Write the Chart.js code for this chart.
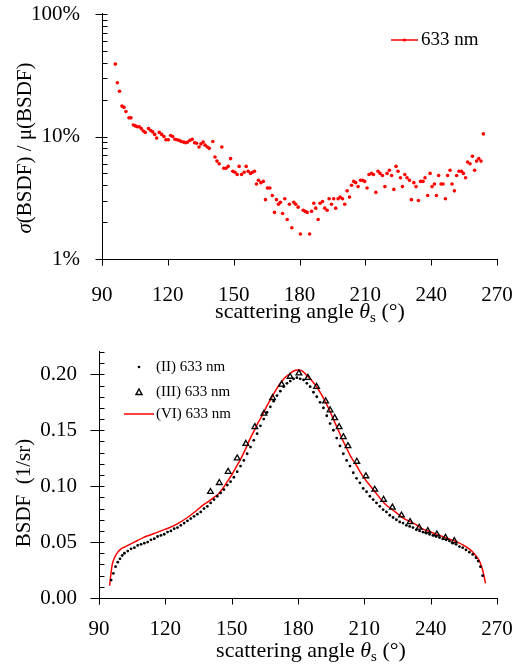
<!DOCTYPE html>
<html>
<head>
<meta charset="utf-8">
<script src="https://cdn.jsdelivr.net/npm/chart.js@4.4.1/dist/chart.umd.min.js"></script>
<style>
  html, body { margin: 0; padding: 0; background: #fff; }
  #wrap { position: relative; width: 514px; height: 664px; }
  canvas { position: absolute; left: 0; }
</style>
</head>
<body>
<div id="wrap">
  <canvas id="relChart" width="514" height="330" style="top:0"></canvas>
  <canvas id="bsdfChart" width="514" height="334" style="top:330px"></canvas>
</div>
<script>
const SERIF = "'Liberation Serif', 'Times New Roman', serif";

// ===== top: relative deviation sigma/mu (%) =====
const relAngles = [96.1, 97.0, 98.0, 99.1, 100.0, 100.9, 102.3, 103.2, 104.3, 105.2, 106.1, 107.0, 107.9, 108.8, 109.7,
  111.2, 112.2, 113.1, 114.0, 114.9, 116.1, 117.2, 118.2, 119.1, 120.2, 121.3, 122.2, 123.2, 124.2, 125.2, 126.1,
  127.2, 128.1, 129.0, 130.1, 131.1, 132.2, 133.1, 134.2, 135.1, 136.1, 137.0, 138.0, 138.9, 140.5, 141.5, 142.4,
  143.4, 144.6, 145.5, 146.5, 147.5, 148.6, 149.6, 150.6, 151.6, 152.5, 153.6, 154.8, 155.7, 156.6, 157.7, 158.6,
  159.5, 160.4, 161.3, 162.4, 163.5, 164.5, 165.4, 166.5, 167.6, 168.6, 169.5, 170.4, 171.3, 172.3, 173.3, 174.4,
  175.4, 176.5, 177.4, 178.3, 179.4, 180.4, 181.7, 182.6, 183.5, 184.6, 185.5, 186.5, 187.4, 188.5, 189.4, 190.5,
  191.5, 192.6, 193.5, 194.6, 195.6, 196.5, 197.6, 198.5, 199.6, 200.6, 201.7, 202.8, 203.7, 204.7, 205.6, 206.7,
  207.8, 208.8, 209.7, 210.8, 211.7, 212.8, 213.7, 214.8, 215.8, 216.7, 217.8, 218.9, 219.9, 221.0, 222.0, 223.0,
  224.0, 224.9, 226.0, 226.9, 228.0, 229.0, 230.1, 231.0, 232.1, 233.1, 234.2, 235.2, 236.3, 237.2, 238.4, 239.5,
  240.4, 241.5, 242.4, 243.4, 244.5, 245.4, 246.5, 247.5, 248.6, 249.5, 250.6, 251.6, 252.7, 253.8, 254.7, 255.7,
  256.6, 257.7, 258.8, 259.8, 260.7, 261.7, 262.7, 263.8];
const relPct = [39, 27.5, 23.4, 17.7, 17.3, 16.0, 14.2, 14.2, 12.4, 12.2, 12.0, 12.0, 11.6, 11.1, 10.8,
  11.6, 11.2, 10.9, 10.4, 9.7, 10.8, 10.4, 10.0, 9.4, 9.4, 10.2, 10.0, 9.5, 9.4, 9.3, 9.1,
  9.0, 8.9, 9.0, 9.3, 9.5, 8.9, 8.8, 8.2, 8.7, 9.0, 8.5, 8.2, 8.0, 9.1, 6.8, 6.3,
  6.0, 8.2, 5.5, 5.5, 5.7, 6.6, 5.2, 5.1, 4.9, 5.7, 4.9, 5.1, 5.7, 5.2, 5.0, 5.1,
  5.2, 4.1, 4.4, 4.2, 4.3, 3.05, 3.8, 3.8, 3.3, 2.4, 3.05, 2.8, 2.9, 2.35, 3.1, 2.1,
  2.8, 1.8, 2.9, 2.8, 2.65, 1.6, 2.5, 2.45, 2.4, 1.6, 2.45, 2.85, 2.6, 2.1, 2.85, 2.95,
  2.6, 2.5, 3.1, 2.8, 3.1, 2.6, 3.1, 3.2, 3.1, 2.8, 3.6, 3.2, 4.0, 4.3, 4.2, 3.9,
  4.4, 4.4, 4.3, 3.8, 4.9, 5.0, 4.9, 3.5, 5.2, 5.0, 4.8, 3.9, 5.0, 5.3, 4.8, 3.7,
  5.7, 5.2, 4.6, 3.9, 4.9, 4.6, 4.4, 3.05, 4.2, 3.9, 3.0, 4.3, 4.3, 4.6, 3.3, 5.0,
  3.9, 4.1, 3.3, 4.8, 4.1, 4.1, 3.1, 4.8, 5.3, 4.1, 3.6, 4.8, 5.2, 5.2, 5.0, 4.6,
  6.2, 6.0, 6.9, 5.3, 6.3, 6.6, 6.3, 10.5];
const relLabel = '633 nm';
const relYTicks = [1, 10, 100];

// ===== bottom: BSDF =====
const angleTicks = [90, 120, 150, 180, 210, 240, 270];

const dotsAngles = [95.5, 96.5, 97.5, 98.5, 99.5, 100.5, 101.5, 103, 104.5, 106, 107.5, 109, 110.5, 112, 113.5, 115,
  116.5, 118, 119.5, 121, 122.5, 124, 125.5, 127, 128.5, 130, 131.5, 133, 134.5, 136, 137.5, 139, 140.5, 142,
  143.5, 145, 146.5, 148, 149.5, 151, 152.5, 154, 155.5, 157, 158.5, 160, 161.5, 163, 164.5, 166, 167.5, 169,
  170.5, 172, 173.5, 175, 176.5, 178, 179.5, 181, 182.5, 184, 185.5, 187, 188.5, 190, 191.5, 193, 194.5, 196,
  197.5, 199, 200.5, 202, 203.5, 205, 206.5, 208, 209.5, 211, 212.5, 214, 215.5, 217, 218.5, 220, 221.5, 223,
  224.5, 226, 227.5, 229, 230.5, 232, 233.5, 235, 236.5, 238, 239.5, 241, 242.5, 244, 245.5, 247, 248.5, 250,
  251.5, 253, 254.5, 256, 257.5, 259, 260.5, 261.5, 262.5, 263.5];
const dotsBsdf = [0.016, 0.022, 0.028, 0.032, 0.035, 0.038, 0.040, 0.042, 0.044, 0.045, 0.047, 0.048, 0.049, 0.050, 0.052, 0.053,
  0.055, 0.056, 0.057, 0.059, 0.060, 0.062, 0.063, 0.065, 0.067, 0.069, 0.071, 0.073, 0.075, 0.077, 0.080, 0.082, 0.085, 0.088,
  0.091, 0.094, 0.097, 0.101, 0.104, 0.108, 0.113, 0.118, 0.123, 0.129, 0.135, 0.141, 0.147, 0.154, 0.160, 0.166, 0.171, 0.176,
  0.181, 0.185, 0.189, 0.192, 0.194, 0.196, 0.197, 0.196, 0.195, 0.192, 0.189, 0.184, 0.180, 0.175, 0.170, 0.163, 0.156, 0.150,
  0.143, 0.136, 0.129, 0.123, 0.118, 0.112, 0.107, 0.103, 0.098, 0.095, 0.091, 0.088, 0.085, 0.082, 0.079, 0.077, 0.074, 0.072,
  0.070, 0.068, 0.067, 0.065, 0.064, 0.063, 0.061, 0.060, 0.059, 0.058, 0.057, 0.056, 0.055, 0.054, 0.053, 0.052, 0.051, 0.049,
  0.048, 0.046, 0.045, 0.043, 0.041, 0.039, 0.036, 0.033, 0.028, 0.020];

const triAngles = [140.4, 144.4, 148.4, 152.5, 156.4, 160.5, 164.6, 168.5, 172.6, 176.4, 180.4, 184.5, 188.4, 192.5,
  194.5, 196.6, 198.6, 200.5, 202.6, 206.6, 210.7, 214.7, 218.7, 222.7, 226.8, 230.7, 234.8, 238.7, 242.8, 246.7, 250.7];
const triBsdf = [0.095, 0.103, 0.113, 0.125, 0.138, 0.153, 0.165, 0.179, 0.191, 0.198, 0.201, 0.197, 0.189, 0.176,
  0.168, 0.161, 0.153, 0.144, 0.136, 0.122, 0.109, 0.097, 0.088, 0.081, 0.074, 0.068, 0.063, 0.060, 0.057, 0.054, 0.051];

const lineAngles = [94.8, 95.3, 96.0, 97.0, 98.5, 100, 102, 104, 107, 110, 114, 118, 122, 126, 130, 134, 137, 140, 142,
  144, 146, 148, 150, 152, 154, 156, 158, 160, 162, 164, 166, 168, 170, 172, 174, 176, 178, 180, 182, 184, 186, 188,
  190, 192, 194, 196, 198, 200, 202, 204, 206, 208, 210, 212, 214, 216, 218, 220, 222, 224, 226, 228, 230, 233, 236,
  240, 244, 248, 252, 255, 258, 260, 261.5, 262.5, 263.5, 264.2, 264.8];
const lineBsdf = [0.011, 0.020, 0.030, 0.036, 0.041, 0.044, 0.046, 0.048, 0.051, 0.054, 0.057, 0.060, 0.063, 0.067, 0.072,
  0.078, 0.083, 0.087, 0.090, 0.093, 0.098, 0.104, 0.110, 0.117, 0.124, 0.132, 0.141, 0.149, 0.157, 0.164, 0.172, 0.179,
  0.186, 0.192, 0.197, 0.200, 0.203, 0.204, 0.203, 0.199, 0.195, 0.190, 0.184, 0.177, 0.169, 0.160, 0.151, 0.142, 0.134,
  0.126, 0.120, 0.113, 0.107, 0.102, 0.097, 0.092, 0.087, 0.083, 0.080, 0.077, 0.074, 0.071, 0.069, 0.066, 0.062, 0.059,
  0.056, 0.053, 0.050, 0.047, 0.043, 0.039, 0.035, 0.031, 0.025, 0.019, 0.013];

const bsdfLabels = ['(II) 633 nm', '(III) 633 nm', '(VI) 633 nm'];
const bsdfYMajor = [0, 0.05, 0.10, 0.15, 0.20];
const bsdfYMinor = [0.01, 0.02, 0.03, 0.04, 0.06, 0.07, 0.08, 0.09, 0.11, 0.12, 0.13, 0.14, 0.16, 0.17, 0.18, 0.19, 0.21, 0.22];

const toPoints = (xs, ys) => xs.map((x, i) => ({ x, y: ys[i] }));

// draws a run of text pieces with mixed styles, centred on x
function drawRich(ctx, parts, x, y) {
  let w = 0;
  parts.forEach(p => { ctx.font = p.font; w += ctx.measureText(p.t).width; });
  let cx = x - w / 2;
  parts.forEach(p => {
    ctx.font = p.font;
    ctx.fillText(p.t, cx, y + (p.dy || 0));
    cx += ctx.measureText(p.t).width;
  });
}

const angleTitle = [
  { t: 'scattering angle ', font: `22px ${SERIF}` },
  { t: 'θ', font: `italic 22px ${SERIF}` },
  { t: 's', font: `15px ${SERIF}`, dy: 4 },
  { t: ' (°)', font: `22px ${SERIF}` },
];

// axes, tick marks, titles and legend drawn over the library scales
const decor = {
  id: 'decor',
  afterDraw(chart, args, o) {
    const { ctx, chartArea: a } = chart;
    const xs = chart.scales.x, ys = chart.scales.y;
    ctx.save();
    ctx.strokeStyle = '#000';
    ctx.lineWidth = 1;
    ctx.beginPath();
    const L = Math.round(a.left) + 0.5, B = Math.round(a.bottom) + 0.5;
    ctx.moveTo(L, a.top - 1); ctx.lineTo(L, B + 6);
    ctx.moveTo(L, B); ctx.lineTo(Math.round(a.right) + 1, B);
    angleTicks.forEach(v => {
      const px = Math.round(xs.getPixelForValue(v)) + 0.5;
      ctx.moveTo(px, B); ctx.lineTo(px, B + 6);
    });
    o.yMajor.forEach(v => {
      const py = Math.round(ys.getPixelForValue(v)) + 0.5;
      ctx.moveTo(L - o.majorOut, py); ctx.lineTo(L + 5, py);
    });
    o.yMinor.forEach(v => {
      const py = Math.round(ys.getPixelForValue(v)) + 0.5;
      ctx.moveTo(L, py); ctx.lineTo(L + 5, py);
    });
    ctx.stroke();

    ctx.fillStyle = '#000';
    ctx.textAlign = 'left';
    ctx.textBaseline = 'alphabetic';
    drawRich(ctx, angleTitle, o.xTitle[0], o.xTitle[1]);
    ctx.save();
    ctx.translate(o.yTitle[0], o.yTitle[1]);
    ctx.rotate(-Math.PI / 2);
    drawRich(ctx, o.yTitleParts, 0, 0);
    ctx.restore();

    // legend
    ctx.textBaseline = 'middle';
    o.legend.forEach(it => {
      ctx.font = it.font;
      if (it.kind === 'line') {
        ctx.strokeStyle = it.color; ctx.lineWidth = 1.5;
        ctx.beginPath(); ctx.moveTo(it.x0, it.y); ctx.lineTo(it.x1, it.y); ctx.stroke();
        if (it.dot) {
          ctx.fillStyle = it.color;
          ctx.beginPath(); ctx.arc((it.x0 + it.x1) / 2, it.y, 1.6, 0, Math.PI * 2); ctx.fill();
        }
      } else if (it.kind === 'dot') {
        ctx.fillStyle = '#000';
        ctx.beginPath(); ctx.arc(it.mx, it.y, 1.3, 0, Math.PI * 2); ctx.fill();
      } else if (it.kind === 'tri') {
        ctx.strokeStyle = '#000'; ctx.lineWidth = 1.4;
        ctx.beginPath();
        ctx.moveTo(it.mx, it.y - 3); ctx.lineTo(it.mx + 3, it.y + 2.5); ctx.lineTo(it.mx - 3, it.y + 2.5);
        ctx.closePath(); ctx.stroke();
      }
      ctx.fillStyle = '#000';
      ctx.fillText(it.text, it.tx, it.y);
    });
    ctx.restore();
  }
};

function fixedScale(size) {
  return s => {
    if (s.isHorizontal()) s.height = size; else s.width = size;
    s.paddingTop = 0; s.paddingBottom = 0; s.paddingLeft = 0; s.paddingRight = 0;
  };
}

const tickFont = { family: SERIF, size: 21 };

// ===== Chart 1 =====
new Chart(document.getElementById('relChart'), {
  type: 'scatter',
  data: {
    datasets: [{
      label: relLabel,
      data: toPoints(relAngles, relPct),
      pointRadius: 1.8,
      pointBorderWidth: 0,
      backgroundColor: '#ff0000',
      showLine: false,
    }],
  },
  options: {
    responsive: false,
    animation: false,
    layout: { padding: { top: 14, right: 17, left: 0, bottom: 0 } },
    plugins: {
      legend: { display: false },
      tooltip: { enabled: false },
      decor: {
        yMajor: relYTicks,
        yMinor: [2, 3, 4, 5, 6, 7, 8, 9, 20, 30, 40, 50, 60, 70, 80, 90],
        majorOut: 7,
        xTitle: [310, 318],
        yTitle: [31, 148],
        yTitleParts: [
          { t: 'σ', font: `italic 21px ${SERIF}` },
          { t: '(BSDF) / μ(BSDF)', font: `21px ${SERIF}` },
        ],
        legend: [
          { kind: 'line', dot: true, color: '#ff0000', x0: 391, x1: 418, y: 40, tx: 421, text: relLabel, font: `19px ${SERIF}` },
        ],
      },
    },
    scales: {
      x: {
        type: 'linear', min: 90, max: 270,
        afterBuildTicks: s => { s.ticks = angleTicks.map(v => ({ value: v })); },
        afterFit: fixedScale(71),
        grid: { display: false, drawTicks: false },
        border: { display: false },
        ticks: { font: tickFont, color: '#000', padding: 24, maxRotation: 0, autoSkip: false },
      },
      y: {
        type: 'logarithmic', min: 1, max: 100,
        afterBuildTicks: s => { s.ticks = relYTicks.map(v => ({ value: v })); },
        afterFit: fixedScale(102),
        grid: { display: false, drawTicks: false },
        border: { display: false },
        ticks: { font: tickFont, color: '#000', padding: 22, callback: v => v + '%' },
      },
    },
  },
  plugins: [decor],
});

// ===== Chart 2 =====
new Chart(document.getElementById('bsdfChart'), {
  type: 'scatter',
  data: {
    datasets: [
      {
        label: bsdfLabels[0],
        data: toPoints(dotsAngles, dotsBsdf),
        pointRadius: 1.4,
        pointBorderWidth: 0,
        backgroundColor: '#000',
        showLine: false,
        order: 1,
      },
      {
        label: bsdfLabels[1],
        data: toPoints(triAngles, triBsdf),
        pointStyle: 'triangle',
        pointRadius: 3.3,
        pointBorderWidth: 1.3,
        borderColor: '#000',
        backgroundColor: 'rgba(255,255,255,0)',
        showLine: false,
        order: 0,
      },
      {
        label: bsdfLabels[2],
        data: toPoints(lineAngles, lineBsdf),
        pointRadius: 0,
        borderColor: '#ff0000',
        borderWidth: 1.5,
        showLine: true,
        tension: 0.3,
        order: 2,
      },
    ],
  },
  options: {
    responsive: false,
    animation: false,
    layout: { padding: { top: 22, right: 17, left: 0, bottom: 0 } },
    plugins: {
      legend: { display: false },
      tooltip: { enabled: false },
      decor: {
        yMajor: bsdfYMajor,
        yMinor: bsdfYMinor,
        majorOut: 9,
        xTitle: [311, 327],
        yTitle: [30, 163],
        yTitleParts: [{ t: 'BSDF  (1/sr)', font: `21px ${SERIF}` }],
        legend: [
          { kind: 'dot', mx: 139, y: 37, tx: 156, text: bsdfLabels[0], font: `15px ${SERIF}` },
          { kind: 'tri', mx: 139, y: 62, tx: 156, text: bsdfLabels[1], font: `15px ${SERIF}` },
          { kind: 'line', color: '#ff0000', x0: 124, x1: 154, y: 84, tx: 156, text: bsdfLabels[2], font: `15px ${SERIF}` },
        ],
      },
    },
    scales: {
      x: {
        type: 'linear', min: 90, max: 270,
        afterBuildTicks: s => { s.ticks = angleTicks.map(v => ({ value: v })); },
        afterFit: fixedScale(66),
        grid: { display: false, drawTicks: false },
        border: { display: false },
        ticks: { font: tickFont, color: '#000', padding: 19, maxRotation: 0, autoSkip: false },
      },
      y: {
        type: 'linear', min: 0, max: 0.22,
        afterBuildTicks: s => { s.ticks = bsdfYMajor.map(v => ({ value: v })); },
        afterFit: fixedScale(99),
        grid: { display: false, drawTicks: false },
        border: { display: false },
        ticks: { font: tickFont, color: '#000', padding: 22, callback: v => v.toFixed(2) },
      },
    },
  },
  plugins: [decor],
});
</script>
</body>
</html>
